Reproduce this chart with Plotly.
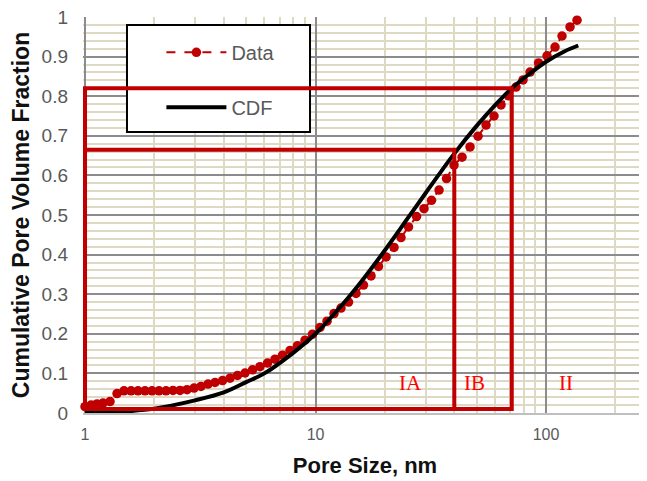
import math
import plotly.graph_objects as go

# ---- Data ----
pore_size_nm = [1.000, 1.062, 1.127, 1.197, 1.284, 1.377, 1.476, 1.584, 1.698, 1.821,
                1.953, 2.094, 2.246, 2.409, 2.583, 2.770, 2.971, 3.186, 3.417, 3.664,
                3.951, 4.257, 4.587, 4.945, 5.331, 5.743, 6.193, 6.673, 7.192, 7.752,
                8.355, 9.003, 9.705, 10.46, 11.22, 12.03, 12.90, 13.91, 14.99, 16.15,
                17.41, 18.76, 20.23, 21.91, 23.49, 25.32, 27.43, 29.56, 31.86, 34.35,
                37.01, 39.90, 43.22, 46.81, 50.70, 54.92, 59.49, 63.79, 68.77, 74.11,
                79.47, 85.23, 92.79, 101.0, 109.4, 117.3, 127.1, 136.3]
cum_pore_volume = [0.016, 0.020, 0.023, 0.025, 0.029, 0.049, 0.056, 0.056, 0.056, 0.056,
                   0.056, 0.056, 0.056, 0.057, 0.057, 0.059, 0.063, 0.067, 0.073, 0.077,
                   0.082, 0.088, 0.095, 0.101, 0.109, 0.117, 0.126, 0.136, 0.146, 0.158,
                   0.170, 0.184, 0.199, 0.216, 0.232, 0.251, 0.265, 0.280, 0.302, 0.323,
                   0.346, 0.370, 0.394, 0.418, 0.443, 0.470, 0.496, 0.516, 0.537, 0.563,
                   0.592, 0.626, 0.646, 0.672, 0.699, 0.727, 0.750, 0.778, 0.801, 0.823,
                   0.841, 0.861, 0.884, 0.902, 0.924, 0.952, 0.975, 0.992]

cdf_size_nm = [1, 1.5, 2, 3, 4, 5, 6, 8, 10, 13, 16, 20, 25, 30, 40, 50, 60, 71, 85, 100, 120, 138]
cdf_fraction = [0.001, 0.004, 0.011, 0.032, 0.052, 0.078, 0.100, 0.152, 0.200, 0.272, 0.336,
                0.411, 0.490, 0.555, 0.655, 0.725, 0.777, 0.820, 0.857, 0.887, 0.913, 0.928]

# pore-size region boxes (IA: up to ~40 nm, IB: up to ~71 nm)
region_box_x_min = [1, 1]
region_box_x_max = [71, 40]
region_box_y_min = [0.01, 0.01]
region_box_y_max = [0.82, 0.665]

region_labels = ["IA", "IB", "II"]
region_label_x = [25.7, 49, 122]
region_label_y = [0.076, 0.076, 0.076]

x_tick_vals = [1, 10, 100]
x_tick_text = ["1", "10", "100"]

# ---- Styles ----
RED = "#C00000"
GREY_TXT = "#595959"
SANS = "Liberation Sans, Arial, sans-serif"
SERIF = "Liberation Serif, Times New Roman, serif"
MAJOR = "#8C8C8C"
MINOR = "#DDD9C3"

fig = go.Figure()

fig.add_trace(go.Scatter(x=pore_size_nm, y=cum_pore_volume, mode="lines+markers",
                         name="Data", legendgroup="a", cliponaxis=False,
                         line=dict(color=RED, width=2, dash="dash"),
                         marker=dict(color=RED, size=9.5)))

fig.add_trace(go.Scatter(x=cdf_size_nm, y=cdf_fraction, mode="lines", name="CDF",
                         legendgroup="b", line=dict(color="black", width=4, shape="spline")))

# legend frame (white box with black border)
fig.add_shape(type="rect", xref="paper", yref="paper", x0=0.078, x1=0.4025,
              y0=0.7096, y1=0.98, line=dict(color="black", width=2),
              fillcolor="white", layer="above")

# region boxes drawn over it
for x0, x1, y0, y1 in zip(region_box_x_min, region_box_x_max, region_box_y_min, region_box_y_max):
    fig.add_shape(type="rect", xref="x", yref="y", x0=x0, x1=x1, y0=y0, y1=y1,
                  line=dict(color=RED, width=4), fillcolor="rgba(0,0,0,0)", layer="above")

for lab, lx, ly in zip(region_labels, region_label_x, region_label_y):
    fig.add_annotation(x=math.log10(lx), y=ly, xref="x", yref="y", text=lab,
                       showarrow=False, font=dict(family=SERIF, size=21, color="#FF0000"))

fig.update_layout(
    width=639, height=473,
    margin=dict(l=75, r=0, t=9, b=68),
    paper_bgcolor="white", plot_bgcolor="white",
    font=dict(family=SANS, color=GREY_TXT),
    showlegend=True,
    legend=dict(x=0.139, y=0.96, xanchor="left", yanchor="top",
                bgcolor="rgba(0,0,0,0)", borderwidth=0,
                font=dict(family=SANS, size=20, color=GREY_TXT),
                itemwidth=60, tracegroupgap=26, traceorder="grouped"),
    xaxis=dict(type="log", range=[-0.0087, 2.438],
               tickvals=x_tick_vals, ticktext=x_tick_text,
               showgrid=True, gridcolor=MAJOR, gridwidth=1.5,
               minor=dict(dtick="D1", showgrid=True, gridcolor=MINOR, gridwidth=2, ticklen=0),
               showline=True, linecolor="#BFBFBF", linewidth=1.5, zeroline=False,
               ticks="", tickfont=dict(family=SANS, size=16, color=GREY_TXT),
               ticklabelstandoff=6, automargin=False, ticklabeloverflow="allow",
               title=dict(text="<b>Pore Size, nm</b>", standoff=16,
                          font=dict(family=SANS, size=22, color="#111111"))),
    yaxis=dict(range=[0, 1], dtick=0.1, tick0=0,
               showgrid=True, gridcolor=MAJOR, gridwidth=1.5,
               minor=dict(dtick=0.02, showgrid=True, gridcolor=MINOR, gridwidth=2, ticklen=0),
               showline=False, zeroline=False,
               ticks="", tickfont=dict(family=SANS, size=19, color=GREY_TXT),
               ticklabelstandoff=14, automargin=False, ticklabeloverflow="allow",
               title=dict(text="<b>Cumulative Pore Volume Fraction</b>", standoff=8,
                          font=dict(family=SANS, size=23, color="#111111"))),
)

fig.write_html("out.html")
